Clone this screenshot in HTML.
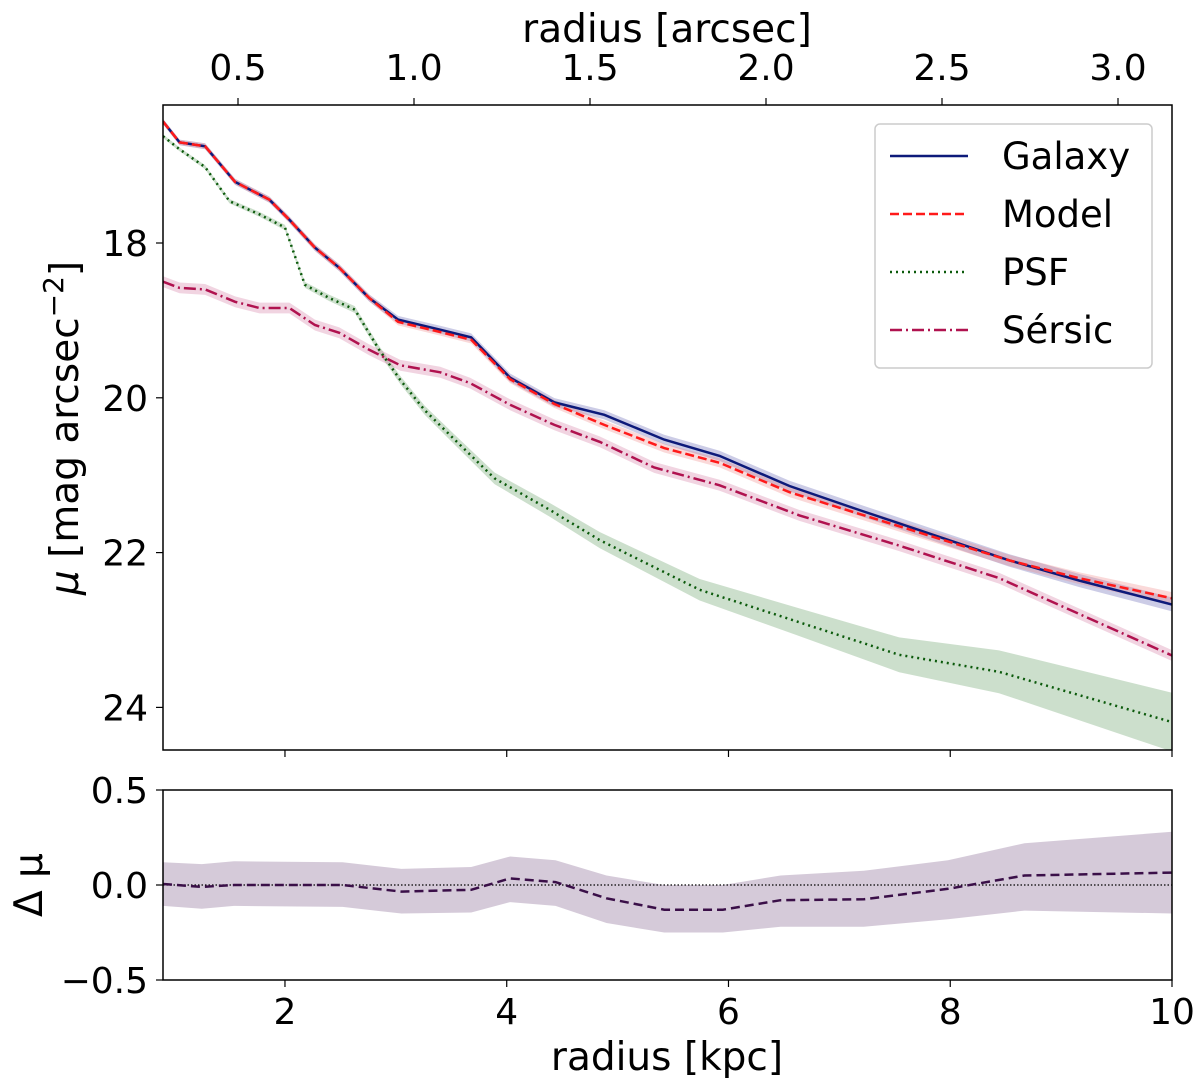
<!DOCTYPE html>
<html><head><meta charset="utf-8"><style>
body{margin:0;background:#fff}
svg text{font-family:"DejaVu Sans","Liberation Sans",sans-serif;fill:#000}
</style></head><body>
<svg id="chart" width="1200" height="1087" viewBox="0 0 1200 1087" xmlns="http://www.w3.org/2000/svg">
<g id="main"></g>
<g id="resid"></g>
</svg>
<script>
const galR=[0.90,1.05,1.28,1.55,1.86,2.04,2.27,2.49,2.76,3.02,3.40,3.68,4.03,4.43,4.88,5.42,5.92,6.55,7.18,7.99,8.53,9.16,10.0];
const galMu=[16.43,16.70,16.75,17.21,17.44,17.70,18.06,18.32,18.71,18.99,19.12,19.22,19.74,20.06,20.22,20.54,20.75,21.14,21.45,21.84,22.10,22.36,22.67];
const modMu=[16.43,16.70,16.75,17.21,17.44,17.70,18.06,18.32,18.71,19.02,19.15,19.25,19.76,20.08,20.35,20.65,20.84,21.22,21.50,21.86,22.10,22.33,22.59];
const psfR=[0.90,1.05,1.28,1.50,1.77,2.00,2.18,2.40,2.63,2.85,3.04,3.26,3.53,3.89,4.39,4.84,5.74,6.64,7.54,8.44,10.0];
const psfMu=[16.62,16.79,17.02,17.46,17.63,17.80,18.54,18.71,18.86,19.38,19.77,20.16,20.54,21.04,21.45,21.84,22.48,22.90,23.32,23.54,24.19];
const serR=[0.90,1.05,1.28,1.55,1.77,2.04,2.27,2.49,2.76,3.04,3.40,3.67,4.03,4.43,4.84,5.33,5.92,6.64,7.54,8.44,10.0];
const serMu=[18.50,18.58,18.60,18.76,18.84,18.84,19.06,19.16,19.38,19.58,19.67,19.81,20.09,20.35,20.57,20.90,21.13,21.52,21.91,22.33,23.33];
const resR=[0.90,1.25,1.54,2.52,3.05,3.68,4.03,4.44,4.90,5.42,5.95,6.47,7.22,7.98,8.67,10.0];
const resD=[0.005,-0.01,0.0,0.0,-0.035,-0.025,0.035,0.015,-0.07,-0.13,-0.13,-0.08,-0.075,-0.02,0.05,0.065];
const resHi=[0.12,0.11,0.125,0.12,0.085,0.095,0.15,0.13,0.05,0.0,0.0,0.05,0.075,0.13,0.22,0.28];
const resLo=[-0.11,-0.125,-0.11,-0.115,-0.15,-0.145,-0.09,-0.11,-0.2,-0.25,-0.25,-0.22,-0.22,-0.18,-0.135,-0.15];
const kpcTicks=[2,4,6,8,10];
const arcTicks=[0.5,1.0,1.5,2.0,2.5,3.0];
const muTicks=[18,20,22,24];
const resTicks=[0.5,0.0,-0.5];

const NS="http://www.w3.org/2000/svg";
const L=163,R=1172,T=105,B=750,T2=790,B2=980;
const FS=36, FT=39;
const xK=k=>L+(k-0.9)/(9.1)*(R-L);
const xA=a=>238+(a-0.5)*352;
const yM=m=>243+(m-18)*77.4;
const yD=d=>885-d*190;
function el(p,tag,at,txt){const e=document.createElementNS(NS,tag);for(const k in at)e.setAttribute(k,at[k]);if(txt!==undefined)e.textContent=txt;p.appendChild(e);return e;}
const main=document.getElementById('main'),resid=document.getElementById('resid');
function pts(xs,ys,fx,fy){return xs.map((x,i)=>fx(x).toFixed(1)+','+fy(ys[i]).toFixed(1));}
function band(p,xs,lo,hi,fx,fy,col,op,name){
 const a=pts(xs,hi,fx,fy),b=pts(xs,lo,fx,fy).reverse();
 const e=el(p,'polygon',{points:a.concat(b).join(' '),fill:col,'fill-opacity':op});
 
 
}
function line(p,xs,ys,fx,fy,col,w,dash,name){
 const e=el(p,'polyline',{points:pts(xs,ys,fx,fy).join(' '),fill:'none',stroke:col,'stroke-width':w,'stroke-dasharray':dash||'none'});
 
 
}
const defs=el(main,'defs',{});
const cp=el(defs,'clipPath',{id:'c1'});el(cp,'rect',{x:L,y:T,width:R-L,height:B-T});
const cp2=el(defs,'clipPath',{id:'c2'});el(cp2,'rect',{x:L,y:T2,width:R-L,height:B2-T2});
const g=el(main,'g',{'clip-path':'url(#c1)'});
band(g,psfR,psfMu.map((m,i)=>m-0.02-0.012*psfR[i]*psfR[i]*0.3),psfMu.map((m,i)=>m+0.02+0.012*psfR[i]*psfR[i]*0.3),xK,yM,'#7fb07f',0.4,'psf-band');
band(g,serR,serMu.map(m=>m-0.07),serMu.map(m=>m+0.07),xK,yM,'#d0709a',0.3,'sersic-band');
band(g,galR,galMu.map((m,i)=>m-0.03-galR[i]*0.006),galMu.map((m,i)=>m+0.03+galR[i]*0.006),xK,yM,'#8080c0',0.4,'galaxy-band');
band(g,galR,modMu.map((m,i)=>m-0.03-galR[i]*0.005),modMu.map((m,i)=>m+0.03+galR[i]*0.005),xK,yM,'#f08080',0.3,'model-band');
line(g,psfR,psfMu,xK,yM,'#0b5a0b',2.5,'2,4','psf-line');
line(g,serR,serMu,xK,yM,'#b0124f',2.5,'12,4,2,4','sersic-line');
line(g,galR,galMu,xK,yM,'#0d1a7a',2.5,null,'galaxy-line');
line(g,galR,modMu,xK,yM,'#ff1a1a',2.5,'9,4','model-line');
el(main,'rect',{x:L,y:T,width:R-L,height:B-T,fill:'none',stroke:'#000','stroke-width':1.5});
muTicks.forEach(m=>{const y=yM(m);el(main,'line',{x1:L-7,x2:L,y1:y,y2:y,stroke:'#000','stroke-width':1.2});
 const t=el(main,'text',{x:L-15,y:y+13,'font-size':FS,'text-anchor':'end'},String(m));});
kpcTicks.forEach(k=>{const x=xK(k);el(main,'line',{x1:x,x2:x,y1:B,y2:B+7,stroke:'#000','stroke-width':1.2});
 el(resid,'line',{x1:x,x2:x,y1:B2,y2:B2+7,stroke:'#000','stroke-width':1.2});
 const t=el(resid,'text',{x:x,y:1024,'font-size':FS,'text-anchor':'middle'},String(k));});
arcTicks.forEach(a=>{const x=xA(a);el(main,'line',{x1:x,x2:x,y1:T-7,y2:T,stroke:'#000','stroke-width':1.2});
 const t=el(main,'text',{x:x,y:80,'font-size':FS,'text-anchor':'middle'},a.toFixed(1));});
let t=el(main,'text',{x:667,y:42,'font-size':FT,'text-anchor':'middle'},'radius [arcsec]');
t=el(main,'text',{transform:'translate(78,428) rotate(-90)','font-size':FT,'text-anchor':'middle'});

el(t,'tspan',{'font-style':'italic'},'μ');el(t,'tspan',{},' [mag arcsec');el(t,'tspan',{dy:-15,'font-size':28},'−2');el(t,'tspan',{dy:15},']');
const lg=el(main,'g',{});
el(lg,'rect',{x:875,y:124,width:277,height:244,rx:5,fill:'#fff','fill-opacity':0.8,stroke:'#ccc','stroke-width':1.5});
const leg=[['Galaxy','#0d1a7a','none'],['Model','#ff1a1a','9,4'],['PSF','#0b5a0b','2,4'],['Sérsic','#b0124f','12,4,2,4']];
leg.forEach((l,i)=>{const y=156+i*58;el(lg,'line',{x1:890,x2:968,y1:y,y2:y,stroke:l[1],'stroke-width':2.5,'stroke-dasharray':l[2]});
 const tt=el(lg,'text',{x:1002,y:y+13,'font-size':37},l[0]);});
const g2=el(resid,'g',{'clip-path':'url(#c2)'});
band(g2,resR,resLo,resHi,xK,yD,'#b9a6c0',0.6,'residual-band');
el(g2,'line',{x1:L,x2:R,y1:yD(0),y2:yD(0),stroke:'#000','stroke-width':1.2,'stroke-dasharray':'1.5,2'});
line(g2,resR,resD,xK,yD,'#3a0f48',2.5,'9,5','residual-line');
el(resid,'rect',{x:L,y:T2,width:R-L,height:B2-T2,fill:'none',stroke:'#000','stroke-width':1.5});
resTicks.forEach(d=>{const y=yD(d);el(resid,'line',{x1:L-7,x2:L,y1:y,y2:y,stroke:'#000','stroke-width':1.2});
 const tt=el(resid,'text',{x:L-15,y:y+13,'font-size':FS,'text-anchor':'end'},d===0?'0.0':(d>0?'0.5':'−0.5'));});
t=el(resid,'text',{x:667,y:1070,'font-size':FT,'text-anchor':'middle'},'radius [kpc]');
t=el(resid,'text',{transform:'translate(42,885) rotate(-90)','font-size':FT,'text-anchor':'middle'},'Δ μ');
</script>
</body></html>
